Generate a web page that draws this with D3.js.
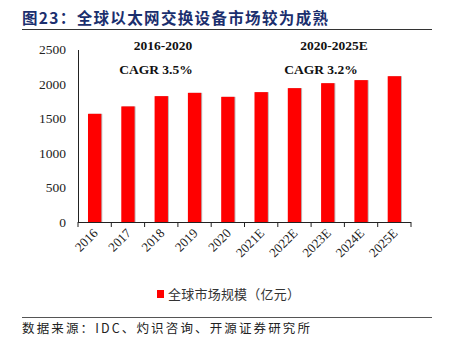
<!DOCTYPE html>
<html>
<head>
<meta charset="utf-8">
<script src="https://cdn.jsdelivr.net/npm/d3@7"></script>
<style>
  html, body { margin: 0; padding: 0; background: #fff; }
  svg { display: block; }
</style>
</head>
<body>
<svg id="chart" width="449" height="344"></svg>
<script>
// Global Ethernet switch market size (100 million yuan)
const categories = ["2016", "2017", "2018", "2019", "2020", "2021E", "2022E", "2023E", "2024E", "2025E"];
const marketSize = [1568, 1675, 1824, 1872, 1814, 1882, 1940, 2012, 2056, 2113];
const yTicks = [0, 500, 1000, 1500, 2000, 2500];
const seriesName = "全球市场规模（亿元）";
const titleText = "图23：全球以太网交换设备市场较为成熟";
const sourceText = "数据来源：IDC、灼识咨询、开源证券研究所";
const periodLabels = ["2016-2020", "2020-2025E"];
const cagrLabels = ["CAGR 3.5%", "CAGR 3.2%"];

const svg = d3.select("#chart");
const serif = "'Liberation Serif', 'Times New Roman', serif";
const cjk = "'Noto Sans CJK SC', sans-serif";

// Title and rules
svg.append("text")
  .attr("x", 22).attr("y", 24)
  .attr("font-family", cjk).attr("font-weight", "bold")
  .attr("font-size", 15.5).attr("fill", "#1b2f6e")
  .attr("textLength", 306).attr("lengthAdjust", "spacing")
  .text(titleText);
svg.append("line").attr("x1", 22).attr("x2", 432).attr("y1", 29.5).attr("y2", 29.5)
  .attr("stroke", "#333").attr("stroke-width", 1);
svg.append("line").attr("x1", 22).attr("x2", 432).attr("y1", 317.5).attr("y2", 317.5)
  .attr("stroke", "#555").attr("stroke-width", 1);
svg.append("text")
  .attr("x", 22).attr("y", 333)
  .attr("font-family", cjk).attr("font-size", 12.5).attr("fill", "#222")
  .attr("textLength", 288).attr("lengthAdjust", "spacing")
  .text(sourceText);

// Plot area
const plot = { left: 78, right: 411, top: 49.5, bottom: 222 };
const x = d3.scaleBand().domain(categories).range([plot.left, plot.right]).paddingInner(0.6).paddingOuter(0.3);
const xb = d3.scaleBand().domain(categories).range([plot.left, plot.right]);
const y = d3.scaleLinear().domain([0, 2500]).range([plot.bottom, plot.top]);

// Bars with a faint grey edge on the right
const bars = svg.append("g");
bars.selectAll("rect.shadow").data(marketSize).join("rect")
  .attr("class", "shadow")
  .attr("x", (d, i) => x(categories[i]) + 1)
  .attr("y", d => y(d))
  .attr("width", x.bandwidth())
  .attr("height", d => plot.bottom - y(d))
  .attr("fill", "#bbb");
bars.selectAll("rect.bar").data(marketSize).join("rect")
  .attr("class", "bar")
  .attr("x", (d, i) => x(categories[i]))
  .attr("y", d => y(d))
  .attr("width", x.bandwidth())
  .attr("height", d => plot.bottom - y(d))
  .attr("fill", "#ff0000");

// Y axis
const yAxis = svg.append("g")
  .attr("transform", `translate(${plot.left},0)`)
  .call(d3.axisLeft(y).tickValues(yTicks).tickFormat(d3.format("d")).tickSize(0).tickPadding(12));
yAxis.select(".domain").attr("stroke", "#222");
yAxis.selectAll("text").attr("font-family", serif).attr("font-size", 13.5).attr("fill", "#222");

// X axis with ticks between categories
const xAxis = svg.append("g").attr("transform", `translate(0,${plot.bottom})`);
xAxis.append("line").attr("x1", plot.left).attr("x2", plot.right).attr("y1", 0.5).attr("y2", 0.5)
  .attr("stroke", "#222");
const boundaries = categories.map(c => xb(c)).concat([plot.right]);
xAxis.selectAll("line.tick").data(boundaries).join("line")
  .attr("class", "tick")
  .attr("x1", d => d).attr("x2", d => d)
  .attr("y1", 0).attr("y2", 5)
  .attr("stroke", "#222");
xAxis.selectAll("text").data(categories).join("text")
  .attr("transform", d => `translate(${xb(d) + xb.bandwidth() / 2 + 4},${12}) rotate(-45)`)
  .attr("text-anchor", "end")
  .attr("font-family", serif).attr("font-size", 13).attr("fill", "#222")
  .text(d => d);

// Period annotations
const noteX = [163, 334];
const cagrX = [156, 321];
periodLabels.forEach((label, i) => {
  svg.append("text").attr("x", noteX[i]).attr("y", 50)
    .attr("text-anchor", "middle").attr("font-family", serif)
    .attr("font-weight", "bold").attr("font-size", 13.5).attr("fill", "#111")
    .text(label);
  svg.append("text").attr("x", cagrX[i]).attr("y", 74)
    .attr("text-anchor", "middle").attr("font-family", serif)
    .attr("font-weight", "bold").attr("font-size", 13.5).attr("fill", "#111")
    .text(cagrLabels[i]);
});

// Legend
const legend = svg.append("g").attr("transform", "translate(157,290)");
legend.append("rect").attr("x", 0).attr("y", 0).attr("width", 7).attr("height", 8).attr("fill", "#ff0000");
legend.append("text").attr("x", 11).attr("y", 9)
  .attr("font-family", cjk).attr("font-size", 13).attr("fill", "#333")
  .attr("textLength", 132).attr("lengthAdjust", "spacing")
  .text(seriesName);
</script>
</body>
</html>
